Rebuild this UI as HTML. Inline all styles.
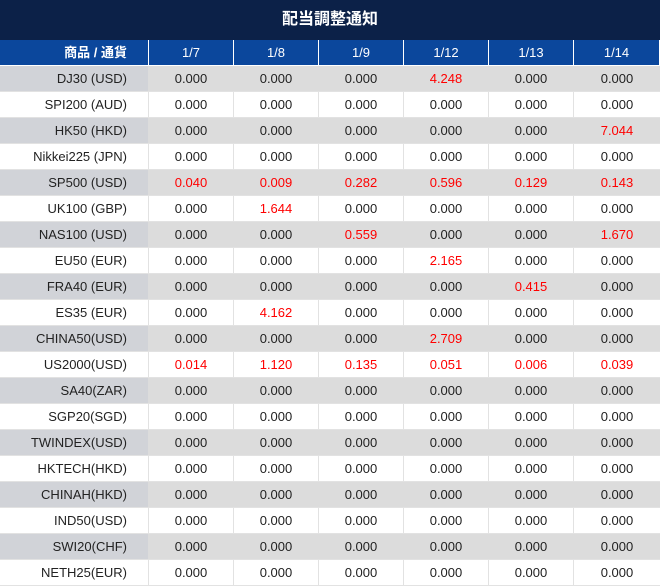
<!DOCTYPE html><html><head><meta charset="utf-8"><style>
body{margin:0;width:660px;height:587px;background:#fff;font-family:"Liberation Sans","Noto Sans CJK JP",sans-serif;overflow:hidden}
.t{height:40px;background:#0c2148;color:#fff;font-weight:bold;font-size:16px;text-align:center;line-height:40px}
.r{display:flex;height:26px;box-sizing:border-box;border-bottom:1px solid #e2e2e2}
.r div{box-sizing:border-box;width:85px;border-right:1px solid #e2e2e2;text-align:center;line-height:25px;font-size:13px;color:#222}
.r div:first-child{width:149px;text-align:right;padding-right:21px}
.r div:last-child{width:86px;border-right:none}
.h{background:#0b479c;border-bottom:1px solid #fff}
.h div{color:#fff!important;border-right:1px solid #fff!important}
.h div:first-child{font-weight:bold}
.g div{background:#dcdcdc;border-right-color:#dcdcdc}
.g div:first-child{background:#d1d3d8}
.x{color:#f00!important}
</style></head><body>
<div class="t">配当調整通知</div>
<div class="r h"><div>商品 / 通貨</div><div>1/7</div><div>1/8</div><div>1/9</div><div>1/12</div><div>1/13</div><div>1/14</div></div>
<div class="r g"><div>DJ30 (USD)</div><div>0.000</div><div>0.000</div><div>0.000</div><div class="x">4.248</div><div>0.000</div><div>0.000</div></div>
<div class="r"><div>SPI200 (AUD)</div><div>0.000</div><div>0.000</div><div>0.000</div><div>0.000</div><div>0.000</div><div>0.000</div></div>
<div class="r g"><div>HK50 (HKD)</div><div>0.000</div><div>0.000</div><div>0.000</div><div>0.000</div><div>0.000</div><div class="x">7.044</div></div>
<div class="r"><div>Nikkei225 (JPN)</div><div>0.000</div><div>0.000</div><div>0.000</div><div>0.000</div><div>0.000</div><div>0.000</div></div>
<div class="r g"><div>SP500 (USD)</div><div class="x">0.040</div><div class="x">0.009</div><div class="x">0.282</div><div class="x">0.596</div><div class="x">0.129</div><div class="x">0.143</div></div>
<div class="r"><div>UK100 (GBP)</div><div>0.000</div><div class="x">1.644</div><div>0.000</div><div>0.000</div><div>0.000</div><div>0.000</div></div>
<div class="r g"><div>NAS100 (USD)</div><div>0.000</div><div>0.000</div><div class="x">0.559</div><div>0.000</div><div>0.000</div><div class="x">1.670</div></div>
<div class="r"><div>EU50 (EUR)</div><div>0.000</div><div>0.000</div><div>0.000</div><div class="x">2.165</div><div>0.000</div><div>0.000</div></div>
<div class="r g"><div>FRA40 (EUR)</div><div>0.000</div><div>0.000</div><div>0.000</div><div>0.000</div><div class="x">0.415</div><div>0.000</div></div>
<div class="r"><div>ES35 (EUR)</div><div>0.000</div><div class="x">4.162</div><div>0.000</div><div>0.000</div><div>0.000</div><div>0.000</div></div>
<div class="r g"><div>CHINA50(USD)</div><div>0.000</div><div>0.000</div><div>0.000</div><div class="x">2.709</div><div>0.000</div><div>0.000</div></div>
<div class="r"><div>US2000(USD)</div><div class="x">0.014</div><div class="x">1.120</div><div class="x">0.135</div><div class="x">0.051</div><div class="x">0.006</div><div class="x">0.039</div></div>
<div class="r g"><div>SA40(ZAR)</div><div>0.000</div><div>0.000</div><div>0.000</div><div>0.000</div><div>0.000</div><div>0.000</div></div>
<div class="r"><div>SGP20(SGD)</div><div>0.000</div><div>0.000</div><div>0.000</div><div>0.000</div><div>0.000</div><div>0.000</div></div>
<div class="r g"><div>TWINDEX(USD)</div><div>0.000</div><div>0.000</div><div>0.000</div><div>0.000</div><div>0.000</div><div>0.000</div></div>
<div class="r"><div>HKTECH(HKD)</div><div>0.000</div><div>0.000</div><div>0.000</div><div>0.000</div><div>0.000</div><div>0.000</div></div>
<div class="r g"><div>CHINAH(HKD)</div><div>0.000</div><div>0.000</div><div>0.000</div><div>0.000</div><div>0.000</div><div>0.000</div></div>
<div class="r"><div>IND50(USD)</div><div>0.000</div><div>0.000</div><div>0.000</div><div>0.000</div><div>0.000</div><div>0.000</div></div>
<div class="r g"><div>SWI20(CHF)</div><div>0.000</div><div>0.000</div><div>0.000</div><div>0.000</div><div>0.000</div><div>0.000</div></div>
<div class="r"><div>NETH25(EUR)</div><div>0.000</div><div>0.000</div><div>0.000</div><div>0.000</div><div>0.000</div><div>0.000</div></div>
</body></html>
